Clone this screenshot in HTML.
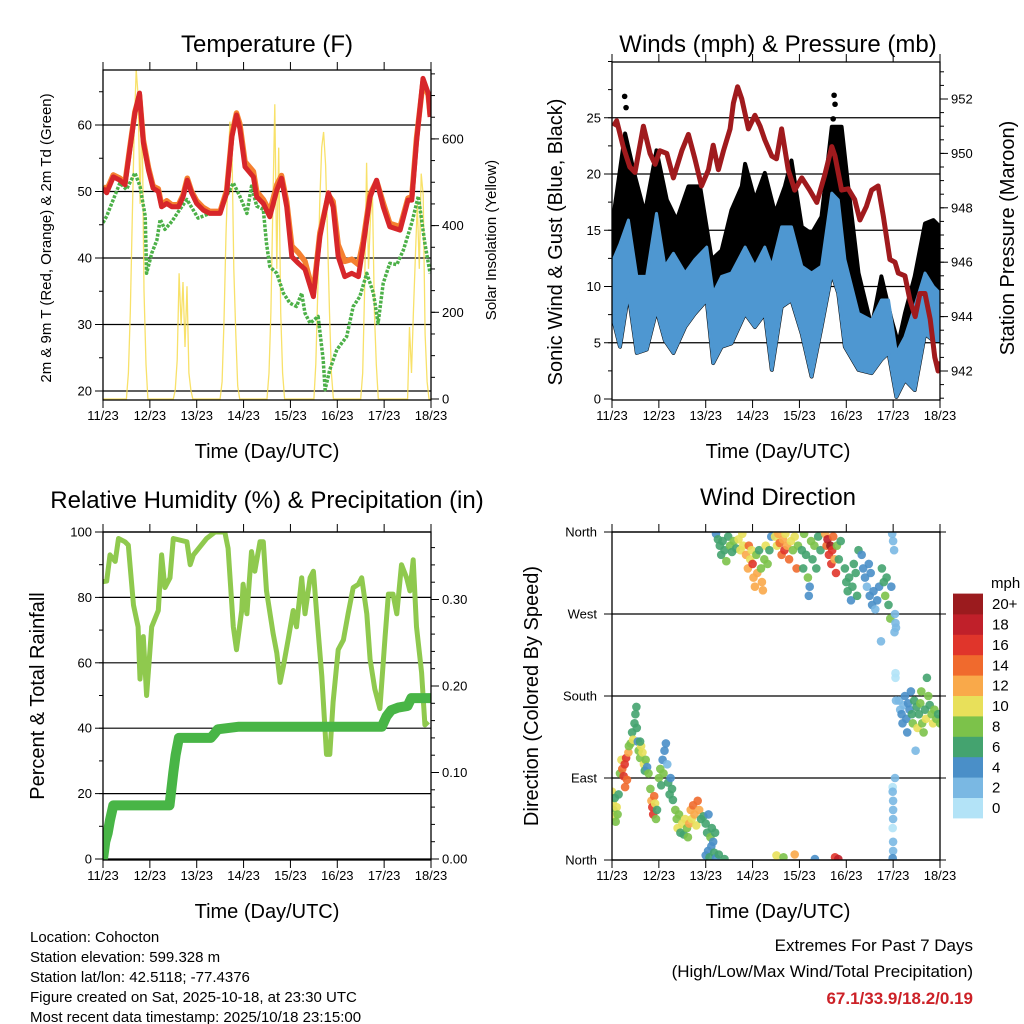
<!DOCTYPE html>
<html><head><meta charset="utf-8"><title>Weather station charts</title>
<style>
html,body{margin:0;padding:0;background:#fff;}
svg{display:block;font-family:"Liberation Sans",Arial,sans-serif;}
</style></head>
<body>
<svg id="root" xmlns="http://www.w3.org/2000/svg" width="1024" height="1024" viewBox="0 0 1024 1024">
<rect x="0" y="0" width="1024" height="1024" fill="#fff"/>
<defs>
<clipPath id="c1"><rect x="103" y="70" width="328" height="330"/></clipPath>
<clipPath id="c2"><rect x="612" y="62" width="328" height="338"/></clipPath>
<clipPath id="c3"><rect x="103" y="532" width="328" height="328"/></clipPath>
<clipPath id="c4"><rect x="612" y="532" width="328" height="328"/></clipPath>
</defs>
<g font-size="24" text-anchor="middle" fill="#000">
<text x="267" y="52">Temperature (F)</text>
<text x="778" y="52">Winds (mph) &amp; Pressure (mb)</text>
<text x="267" y="508">Relative Humidity (%) &amp; Precipitation (in)</text>
<text x="778" y="505">Wind Direction</text>
</g>
<g font-size="20" text-anchor="middle">
<text x="267" y="458">Time (Day/UTC)</text>
<text x="778" y="458">Time (Day/UTC)</text>
<text x="267" y="918">Time (Day/UTC)</text>
<text x="778" y="918">Time (Day/UTC)</text>
<text transform="translate(562,242) rotate(-90)">Sonic Wind &amp; Gust (Blue, Black)</text>
<text transform="translate(1014,238) rotate(-90)">Station Pressure (Maroon)</text>
<text transform="translate(44,696) rotate(-90)">Percent &amp; Total Rainfall</text>
<text transform="translate(538,696) rotate(-90)">Direction (Colored By Speed)</text>
</g>
<g font-size="15" text-anchor="middle">
<text transform="translate(51,238) rotate(-90)">2m &amp; 9m T (Red, Orange) &amp; 2m Td (Green)</text>
<text transform="translate(496,240) rotate(-90)">Solar Insolation (Yellow)</text>
</g>
<g font-size="15">
<text x="30" y="942">Location: Cohocton</text>
<text x="30" y="962">Station elevation: 599.328 m</text>
<text x="30" y="982">Station lat/lon: 42.5118; -77.4376</text>
<text x="30" y="1002">Figure created on Sat, 2025-10-18, at 23:30 UTC</text>
<text x="30" y="1022">Most recent data timestamp: 2025/10/18 23:15:00</text>
</g>
<g font-size="17" text-anchor="end">
<text x="973" y="951">Extremes For Past 7 Days</text>
<text x="973" y="977">(High/Low/Max Wind/Total Precipitation)</text>
<text x="973" y="1004" fill="#cc2127" font-weight="bold">67.1/33.9/18.2/0.19</text>
</g>
</svg>
<script>
// ---------- DATA ----------
const dayLabels = ['11/23','12/23','13/23','14/23','15/23','16/23','17/23','18/23'];
const tempDay = [0,0.08,0.22,0.36,0.47,0.58,0.68,0.78,0.86,0.97,1.07,1.18,1.25,1.36,1.47,1.61,1.71,1.80,1.89,2.00,2.14,2.28,2.50,2.64,2.75,2.85,2.92,3.03,3.21,3.28,3.42,3.56,3.71,3.81,3.92,4.03,4.17,4.31,4.49,4.63,4.81,4.91,5.02,5.16,5.31,5.45,5.55,5.70,5.84,5.98,6.12,6.34,6.51,6.59,6.69,6.83,6.94,6.98];
const temp2m = [50.5,49.8,52.2,51.7,51,56.7,61.8,64.8,57.4,53.2,50.5,50,47.7,48.2,47.7,47.7,49.2,51.7,49.8,48.2,47.2,46.7,46.7,49.8,58.2,61.5,59.5,53.7,52.2,49.2,48.2,46.2,50.2,52,47.7,40.2,39.2,38.3,34.2,43.2,49.8,47.7,40.2,37.2,37.7,37.2,41.7,49.2,51.7,47.7,44.7,44.2,48.7,48.7,57.4,67,64.8,61.2];
const temp9m = [50.8,50.2,52.5,52,51.3,57,62,64.5,57.8,53.6,50.8,50.4,48,48.6,48,48,49.5,52,50,48.6,47.6,47,47,50.2,58.6,61.8,60.2,54.5,53,50,48.8,47,51,52.4,48.5,41.8,40.8,39.5,34.8,43.8,49.5,48.5,42,39.5,39.8,39,42.5,49.6,51.6,48.3,45.2,44.7,49,49.2,58,66.5,64.5,61.5];
const dewDay = [0,0.08,0.22,0.36,0.50,0.68,0.79,0.90,0.93,1.04,1.15,1.22,1.32,1.47,1.64,1.79,2.03,2.28,2.50,2.60,2.78,2.92,3.07,3.17,3.28,3.42,3.49,3.56,3.71,3.85,3.99,4.13,4.24,4.31,4.42,4.59,4.70,4.74,4.84,4.99,5.20,5.34,5.48,5.63,5.77,5.87,5.98,6.12,6.27,6.41,6.59,6.73,6.87,6.98];
const dewVals = [45.3,46.3,48.8,51.3,50.3,52.8,50.8,46.3,37.7,40.7,42.7,45.8,44.3,45.5,47.3,48.8,46,46.7,46.7,48.8,51.3,49.3,46.7,50.8,47.8,47.3,42.2,38.7,37.7,34.7,33.2,32.7,34.7,31.7,30.2,31.2,24.7,20.2,23.2,26.2,28.2,32.7,34.2,37.7,34.7,30.2,36.2,39.2,39,41.2,45.3,49.3,42.2,37.7];
// hourly solar insolation, index = hours since 11/23 UTC
const solarVals = [
0,0,0,0,0,0,0,0,0,0,0,0, 0,60,200,420,620,760,700,450,680,250,80,0,
0,0,0,0,0,0,0,0,0,0,0,0, 0,20,90,290,170,270,120,260,60,20,0,0,
0,0,0,0,0,0,0,0,0,0,0,0, 0,40,180,380,520,640,590,300,150,30,0,0,
0,0,0,0,0,0,0,0,0,0,0,0, 0,60,200,450,680,300,580,200,60,0,0,0,
0,0,0,0,0,0,0,0,0,0,0,0, 0,80,250,450,580,616,540,380,200,60,0,0,
0,0,0,0,0,0,0,0,0,0,0,0, 0,60,250,545,300,420,480,200,80,0,0,0,
0,0,0,0,0,0,0,0,0,0,0,0, 0,166,60,200,330,450,300,520,470,150,40,0, 0];
const presDay = [0.03,0.10,0.24,0.38,0.49,0.67,0.81,0.92,1.02,1.17,1.31,1.49,1.63,1.77,1.91,2.06,2.16,2.27,2.38,2.52,2.59,2.68,2.77,2.91,3.05,3.16,3.26,3.41,3.51,3.62,3.76,3.90,4.05,4.22,4.37,4.54,4.69,4.76,4.90,5.04,5.18,5.29,5.43,5.54,5.68,5.79,5.93,6.04,6.11,6.25,6.36,6.47,6.57,6.68,6.79,6.89,6.96,7.0];
const presVals = [951.0,951.2,950.25,949.5,949.3,951,950,949.6,950.1,950.0,949.1,950.1,950.7,949.8,948.8,949.4,950.3,949.4,950.1,950.9,951.85,952.45,952,950.9,951.4,951,950.5,949.9,949.8,950.9,949.4,948.65,949.1,948.65,948.2,949.2,950.25,949.9,948.65,948.7,948.3,947.55,948.05,948.65,948.8,947.7,946.1,946,945.6,945.5,944.6,944,944.85,944.85,943.9,942.5,942.0,942.35];
const windDay = [0.03,0.17,0.35,0.53,0.74,0.95,1.13,1.31,1.56,1.77,2.02,2.16,2.34,2.55,2.84,3.05,3.26,3.41,3.62,3.83,4.05,4.26,4.47,4.69,4.83,4.97,5.26,5.54,5.75,5.90,6.07,6.25,6.46,6.68,6.86,7.0];
const windHigh = [12.4,13.8,15.9,10.9,10.9,16.5,11.8,12.95,11.2,12.4,13.5,9.4,10.9,11.2,13.5,11.8,13.5,11.8,15.3,15.3,11.8,11.2,11.8,18.3,17.7,12.4,7.6,7.0,8.8,8.8,4.1,5.5,8.2,11.2,10.0,9.4];
const windLow = [7.0,4.65,9.4,4.1,4.4,7.9,5.2,4.1,6.4,7.6,8.8,3.2,4.65,4.95,7.6,6.4,7.6,2.6,8.2,8.8,5.8,2.0,6.4,11.2,9.4,4.65,2.6,2.3,3.5,4.1,0.2,1.7,0.8,5.8,5.2,5.2];
const gustDay = [0,0.28,0.49,0.70,0.95,1.17,1.38,1.63,1.88,2.13,2.34,2.55,2.77,2.84,3.05,3.26,3.48,3.69,3.83,4.05,4.26,4.47,4.69,4.90,5.04,5.26,5.54,5.75,5.97,6.11,6.25,6.46,6.68,6.86,7.0];
const gustHigh = [15.3,23.6,19.8,16.5,22.1,17.7,15.9,18.9,18.9,12.4,13.2,16.8,18.9,20.9,17.7,20.1,16.5,18.9,21.2,15.3,14.7,16.2,24.2,24.2,18.9,11.2,6.4,10.9,7.0,4.95,7.6,10.9,15.6,15.9,15.3];
const gustOutDay = [0.27,0.30,4.72,4.74,4.76,0.22,0.95];
const gustOutVal = [26.9,25.9,24.9,27.0,26.2,20.5,21.5];
const rhDay = [0,0.08,0.15,0.26,0.33,0.47,0.54,0.65,0.75,0.79,0.86,0.93,1.04,1.18,1.25,1.32,1.43,1.50,1.79,1.86,1.93,2.21,2.39,2.60,2.67,2.78,2.85,2.96,2.99,3.07,3.17,3.24,3.35,3.42,3.49,3.63,3.71,3.78,3.85,3.95,4.06,4.13,4.24,4.31,4.42,4.49,4.56,4.67,4.77,4.84,4.91,5.02,5.13,5.23,5.34,5.45,5.52,5.63,5.70,5.80,5.91,6.02,6.09,6.19,6.27,6.37,6.48,6.55,6.62,6.69,6.80,6.87,6.94];
const rhVals = [84.8,85,93,91,98,97,96,77.6,71,55,68,50,71,76,93,83,86,98,97,90,93,98,100,100,95,71,64,76,84,75,94,88,97,97,82,69,63,54,59,67,76,71,86,75,86,88,75,56,32,32,48,64,67,75,83,84,86,75,61,52,46,68,81,81,75,90,86,82,91.5,71,57,41,42];
const precDay = [0,0.05,0.1,0.15,0.22,0.3,1.42,1.5,1.55,1.62,2.3,2.38,2.45,2.9,5.95,6.05,6.15,6.3,6.5,6.58,7.0];
const precVals = [0,0.02,0.03,0.045,0.062,0.062,0.062,0.1,0.12,0.14,0.14,0.145,0.15,0.153,0.153,0.165,0.172,0.175,0.177,0.186,0.186];
const dirDay = [0.0,0.02,0.03,0.05,0.06,0.08,0.1,0.12,0.14,
0.17,0.2,0.22,0.25,0.27,0.3,0.32,0.28,0.35,0.36,
0.4,0.43,0.45,0.48,0.5,0.52,0.53,0.55,
0.57,0.6,0.62,0.65,0.68,0.7,0.72,0.75,0.78,0.6,
0.82,0.84,0.86,0.88,0.9,0.92,0.94,0.96,
1.0,1.03,1.05,1.08,1.1,1.12,1.15,1.18,1.2,1.23,1.25,1.28,1.3,
1.35,1.38,1.4,1.43,1.46,1.5,1.53,1.56,1.6,1.62,
1.65,1.68,1.7,1.73,1.76,1.8,1.83,1.86,1.9,1.95,
2.0,2.03,2.06,2.1,2.13,2.16,2.2,
2.0,2.05,2.08,2.12,2.18,2.22,2.28,2.4,
2.22,2.26,2.3,2.33,2.36,2.4,2.44,2.48,2.52,2.56,2.6,2.65,
2.7,2.74,2.78,2.8,
2.86,2.9,2.92,2.95,2.98,3.0,3.02,3.05,3.08,3.1,3.14,3.18,3.2,3.22,3.25,3.28,3.32,3.36,3.4,
3.48,3.52,3.55,3.58,3.62,3.65,3.68,3.7,3.74,3.78,3.82,3.86,3.9,3.94,3.97,
4.05,4.08,4.1,4.14,4.18,4.2,4.22,4.25,4.28,4.32,4.36,4.4,4.45,
4.55,4.58,4.6,4.63,4.66,4.68,4.7,4.72,4.75,4.78,4.8,4.84,4.88,
4.97,5.0,5.03,5.06,5.1,5.13,5.16,5.2,5.23,5.26,
5.33,5.36,5.4,5.44,5.48,5.52,
5.5,5.55,5.58,5.62,5.66,5.7,5.74,
5.76,5.8,5.83,5.86,5.9,5.94,5.96,
5.98,6.0,6.02,6.04,6.05,6.06,6.03,6.05,6.05,6.06,6.04,5.99,5.99,6.0,6.0,6.0,5.99,6.0,6.0,5.99,
6.12,6.15,6.18,6.2,6.22,6.25,6.28,6.3,6.32,6.35,6.38,6.4,6.42,6.45,6.48,6.5,6.52,6.55,6.58,6.6,6.62,6.65,6.68,6.7,6.72,6.75,6.78,6.82,6.85,6.88,6.92,6.96,7.0,
3.51,3.66,3.9,4.33,4.76,4.83];
const dirDeg = [75,62,55,48,68,42,58,50,72,
95,110,100,92,105,112,88,80,118,125,
128,140,132,150,160,168,145,130,
120,112,125,118,105,98,110,102,95,130,
78,65,58,50,70,62,45,55,
90,100,82,110,95,120,128,105,85,72,90,78,66,
55,45,35,50,30,40,28,45,35,25,
40,55,45,60,50,38,65,55,45,48,
40,30,50,25,35,20,30,
5,10,3,15,8,2,6,1,
358,352,345,335,350,340,328,355,345,338,350,342,
352,340,358,345,
335,320,345,330,340,325,310,300,335,315,340,320,305,296,330,345,325,340,355,
355,345,358,348,335,352,340,358,345,330,350,340,355,320,345,
340,320,358,335,310,290,300,350,330,345,320,355,340,
358,345,352,335,345,325,340,355,330,315,345,330,350,
320,305,295,310,285,300,325,315,290,340,
335,320,310,300,325,315,
290,280,295,275,285,300,240,
320,305,290,310,280,265,300,
358,350,340,270,260,255,250,205,200,175,90,80,75,65,55,45,35,20,10,2,
175,165,160,150,170,180,155,140,172,165,185,160,150,175,120,168,145,160,172,185,150,140,165,155,200,180,170,160,150,165,155,160,150,
5,3,6,1,3,1];
const dirSpd = [10,11,8,10,7,8,10,9,6,
9,10,14,16,17,16,15,14,12,8,
9,7,10,6,7,7,6,5,
8,9,10,11,10,6,8,5,8,6,
9,12,16,17,14,10,9,7,
9,8,7,5,9,4,4,3,6,7,5,7,6,
8,9,10,9,7,10,6,11,9,8,
12,13,10,14,12,10,15,13,7,6,
6,7,5,8,6,5,7,
4,5,6,5,6,4,7,6,
4,6,7,6,7,6,8,6,9,7,8,7,
10,10,11,10,
12,13,15,11,10,16,13,12,9,12,7,9,12,13,8,10,8,7,5,
10,11,12,14,15,13,16,11,12,14,10,9,11,15,8,
7,6,8,7,8,4,5,9,7,8,6,7,7,
13,15,18,17,20,17,16,14,12,16,8,7,6,
6,7,6,6,4,7,6,6,7,6,
4,5,4,3,5,4,
4,5,4,3,4,4,3,
6,7,8,6,7,8,5,
2,2,2,3,3,2,2,1,0,3,3,1,3,3,3,2,1,3,3,4,
3,2,4,4,3,4,4,4,5,4,4,6,8,6,2,7,10,6,8,8,9,8,7,10,7,8,7,8,10,9,8,7,8,
10,8,12,4,16,18];
const speedColors = ['#b3e3f7','#7ab8e3','#4a8fc8','#44a36f','#7cc24a','#e8e05a','#f9a94a','#f06a2d','#e0352b','#c0202a','#9b1b1e'];
const speedLabels = ['0','2','4','6','8','10','12','14','16','18','20+'];
const tempTicks = [20,30,40,50,60];
const solarTicks = [0,200,400,600];
const windTicks = [0,5,10,15,20,25];
const presTicks = [942,944,946,948,950,952];
const rhTicks = [0,20,40,60,80,100];
const precTicks = [0,0.1,0.2,0.3];
const dirTicks = [0,90,180,270,360];
const dirNames = ['North','East','South','West','North'];

// ---------- AXIS FUNCTIONS ----------
const X1 = d => 103 + d * 328 / 7;
const X2 = d => 612 + d * 328 / 7;
const tempY = t => 391 - (t - 20) * 6.65;
const solarY = v => 399 - v * 0.4335;
const windY = s => 399 - s * 11.25;
const presY = p => 371 - (p - 942) * 27.2;
const rhY = r => 859 - r * 3.27;
const precY = p => 859 - p * 865;
const dirY = d => 860 - d * 328 / 360;

const NS = 'http://www.w3.org/2000/svg';
const svg = document.getElementById('root');
function mk(tag, attrs, parent) {
  const e = document.createElementNS(NS, tag);
  for (const k in attrs) e.setAttribute(k, attrs[k]);
  (parent || svg).appendChild(e);
  return e;
}
function pts(days, vals, fx, fy) { return days.map((d, i) => fx(d).toFixed(1) + ',' + fy(vals[i]).toFixed(1)).join(' '); }

function grid(x0, x1, ys, name) {
  const g = mk('g', {});
  
  
  ys.forEach(y => { mk('line', {x1: x0, x2: x1, y1: y, y2: y, stroke: '#000', 'stroke-width': 1.2}, g); });
}
function frame(x0, y0, x1, y1, name) {
  const r = mk('rect', {x: x0, y: y0, width: x1 - x0, height: y1 - y0, fill: 'none', stroke: '#000', 'stroke-width': 1.3});
  
  
}
function xAxis(fx, y0, y1, name) {
  const g = mk('g', {'font-size': 13, 'text-anchor': 'middle'});
  
  
  dayLabels.forEach((lab, i) => {
    const x = fx(i);
    mk('line', {x1: x, x2: x, y1: y0, y2: y0 - 8, stroke: '#000', 'stroke-width': 1}, g);
    mk('line', {x1: x, x2: x, y1: y1, y2: y1 + 8, stroke: '#000', 'stroke-width': 1}, g);
    const t = mk('text', {x: x, y: y1 + 20}, g);
    t.textContent = lab;
  });
}
function yAxis(x, ticks, fy, fmt, side, minorStep, lo, hi, name, ylo, yhi) {
  const g = mk('g', {'font-size': 13, 'text-anchor': side < 0 ? 'end' : 'start'});
  
  
  for (let v = lo; v <= hi + 1e-9; v += minorStep) {
    const y = fy(v);
    if (y < ylo - 0.5 || y > yhi + 0.5) continue;
    mk('line', {x1: x, x2: x + side * 4, y1: y, y2: y, stroke: '#000', 'stroke-width': 1}, g);
  }
  ticks.forEach(v => {
    const y = fy(v);
    mk('line', {x1: x, x2: x + side * 8, y1: y, y2: y, stroke: '#000', 'stroke-width': 1}, g);
    const t = mk('text', {x: x + side * 11, y: y + 4.5}, g);
    t.textContent = fmt(v);
  });
}

// ---------- PANEL 1: TEMPERATURE ----------
grid(103, 431, tempTicks.map(tempY), 'temp-gridlines');
const g1 = mk('g', {'clip-path': 'url(#c1)'});


const solarDays = solarVals.map((v, i) => i / 24);
const sol = mk('polyline', {points: pts(solarDays, solarVals, X1, solarY), fill: 'none', stroke: '#f7dc4f', 'stroke-width': 1.3, opacity: 0.85}, g1);


const dew = mk('polyline', {points: pts(dewDay, dewVals, X1, tempY), fill: 'none', stroke: '#4cb048', 'stroke-width': 3.5, 'stroke-dasharray': '3 1.5', 'stroke-linejoin': 'round'}, g1);


const t9 = mk('polyline', {points: pts(tempDay, temp9m, X1, tempY), fill: 'none', stroke: '#f58030', 'stroke-width': 5.5, 'stroke-linejoin': 'round'}, g1);


const t2 = mk('polyline', {points: pts(tempDay, temp2m, X1, tempY), fill: 'none', stroke: '#d7262a', 'stroke-width': 5, 'stroke-linejoin': 'round'}, g1);


frame(103, 70, 431, 400, 'temp-frame');
xAxis(X1, 70, 400, 'temp-x-axis');
yAxis(103, tempTicks, tempY, v => String(v), -1, 5, 20, 65, 'temp-y-axis', 70, 400);
yAxis(431, solarTicks, solarY, v => String(v), 1, 50, 0, 750, 'solar-y-axis', 70, 400);

// ---------- PANEL 2: WINDS & PRESSURE ----------
grid(612, 940, windTicks.slice(1).map(windY), 'wind-gridlines');
const g2 = mk('g', {'clip-path': 'url(#c2)'});


const gustPoly = pts(gustDay, gustHigh, X2, windY) + ' ' + pts(windDay.slice().reverse(), windLow.slice().reverse(), X2, windY);
const gust = mk('polygon', {points: gustPoly, fill: '#000', stroke: '#000', 'stroke-width': 4, 'stroke-linejoin': 'round'}, g2);


gustOutDay.forEach((d, i) => {
  const c = mk('circle', {cx: X2(d), cy: windY(gustOutVal[i]), r: 2.8, fill: '#000'}, g2);
  
  
});
const windPoly = pts(windDay, windHigh, X2, windY) + ' ' + pts(windDay.slice().reverse(), windLow.slice().reverse(), X2, windY);
const wind = mk('polygon', {points: windPoly, fill: '#4e97d1', stroke: '#4e97d1', 'stroke-width': 3, 'stroke-linejoin': 'round'}, g2);


const pres = mk('polyline', {points: pts(presDay, presVals, X2, presY), fill: 'none', stroke: '#a01a1d', 'stroke-width': 5, 'stroke-linejoin': 'round'}, g2);


frame(612, 62, 940, 400, 'winds-frame');
xAxis(X2, 62, 400, 'winds-x-axis');
yAxis(612, windTicks, windY, v => String(v), -1, 2.5, 0, 30, 'wind-y-axis', 62, 400);
yAxis(940, presTicks, presY, v => String(v), 1, 0.5, 941, 953.5, 'pressure-y-axis', 62, 400);

// ---------- PANEL 3: RH & PRECIP ----------
grid(103, 431, rhTicks.map(rhY), 'humidity-gridlines');
const g3 = mk('g', {'clip-path': 'url(#c3)'});


const rh = mk('polyline', {points: pts(rhDay, rhVals, X1, rhY), fill: 'none', stroke: '#8fc94e', 'stroke-width': 5, 'stroke-linejoin': 'round'}, g3);


const pr = mk('polyline', {points: pts(precDay, precVals, X1, precY), fill: 'none', stroke: '#48b546', 'stroke-width': 10, 'stroke-linejoin': 'round', 'stroke-linecap': 'round'}, g3);


frame(103, 532, 431, 860, 'humidity-frame');
xAxis(X1, 532, 860, 'humidity-x-axis');
yAxis(103, rhTicks, rhY, v => String(v), -1, 10, 0, 100, 'humidity-y-axis', 532, 860);
yAxis(431, precTicks, precY, v => v.toFixed(2), 1, 0.02, 0, 0.38, 'precip-y-axis', 532, 860);

// ---------- PANEL 4: WIND DIRECTION ----------
grid(612, 940, dirTicks.map(dirY), 'direction-gridlines');
const g4 = mk('g', {'clip-path': 'url(#c4)'});


dirDay.forEach((d, i) => {
  const idx = Math.min(10, Math.floor(dirSpd[i] / 2));
  const c = mk('circle', {cx: X2(d).toFixed(1), cy: dirY(dirDeg[i]).toFixed(1), r: 4.3, fill: speedColors[idx], opacity: 0.9}, g4);
  
  
});
frame(612, 532, 940, 860, 'direction-frame');
xAxis(X2, 532, 860, 'direction-x-axis');
const gd = mk('g', {'font-size': 13, 'text-anchor': 'end'});


dirTicks.forEach((v, i) => {
  const y = dirY(v);
  mk('line', {x1: 612, x2: 604, y1: y, y2: y, stroke: '#000'}, gd);
  mk('line', {x1: 940, x2: 946, y1: y, y2: y, stroke: '#000'}, gd);
  const t = mk('text', {x: 597, y: y + 4.5}, gd);
  t.textContent = dirNames[i];
});

// colorbar
const cb = mk('g', {'font-size': 15});


const cbTitle = mk('text', {x: 991, y: 588}, cb);
cbTitle.textContent = 'mph';
speedLabels.forEach((lab, i) => {
  const y = 818 - (i + 1) * 20.4;
  const r = mk('rect', {x: 953, y: y.toFixed(1), width: 30, height: 20.8, fill: speedColors[i]}, cb);
  
  
  const t = mk('text', {x: 992, y: (y + 15.5).toFixed(1)}, cb);
  t.textContent = lab;
});
</script>
</body></html>
